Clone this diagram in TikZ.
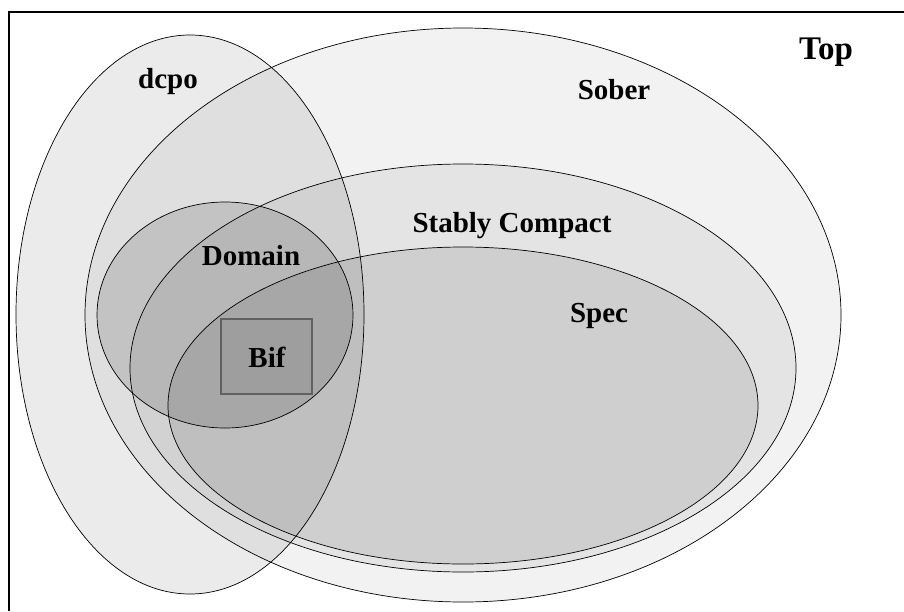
\documentclass[tikz,border=0pt]{standalone}
\usepackage{fontspec}
\setmainfont{Liberation Serif}
\begin{document}
\begin{tikzpicture}[x=1pt,y=-1pt,
  setbox/.style={draw=black,line width=0.7pt,fill=black},
  lbl/.style={font=\bfseries\fontsize{29}{30}\selectfont,anchor=base,inner sep=0pt}]
\useasboundingbox (0,0) rectangle (904,611);
\fill[white] (0,0) rectangle (904,611);
% frame (cropped on right and bottom)
\draw[line width=1.3pt] (9,611) -- (9,12) -- (904,12);
% sets
\path[setbox,fill opacity=0.05] (463,315) ellipse [x radius=378,y radius=287];
\path[setbox,fill opacity=0.08] (190,314.5) ellipse [x radius=174,y radius=279.5];
\path[setbox,fill opacity=0.055] (463,368) ellipse [x radius=333,y radius=204];
\path[setbox,fill opacity=0.09] (463,405.5) ellipse [x radius=295,y radius=158.5];
\path[setbox,fill opacity=0.125] (225,315) ellipse [x radius=128,y radius=113];
\node[draw=black!62,line width=1.3pt,fill=black,fill opacity=0.05,text opacity=1,
  minimum width=91pt,minimum height=75pt,inner sep=0pt] (bifbox) at (266.5,356.5) {};
% labels
\node[lbl,font=\bfseries\fontsize{33}{34}\selectfont] (top) at (826,59) {Top};
\node[lbl] (sober) at (614,99) {Sober};
\node[lbl] (dcpo) at (168,88) {dcpo};
\node[lbl] (stably) at (512,232) {Stably Compact};
\node[lbl] (domain) at (251,265) {Domain};
\node[lbl] (spec) at (599,322) {Spec};
\node[lbl] (bif) at (267,367) {Bif};
\end{tikzpicture}
\end{document}
